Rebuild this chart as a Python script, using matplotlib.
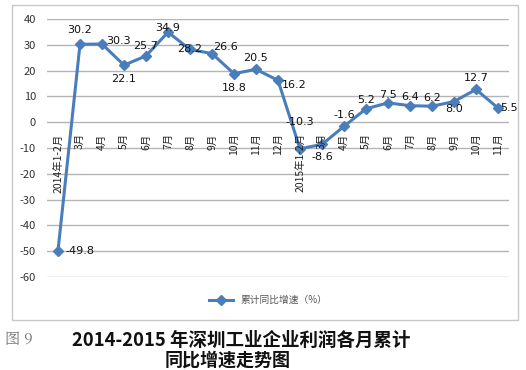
import matplotlib.pyplot as plt
from matplotlib.lines import Line2D
from matplotlib.patches import Rectangle

plt.rcParams['font.family'] = ['Noto Sans CJK SC', 'DejaVu Sans']
plt.rcParams['axes.unicode_minus'] = False

months = ['2014年1-2月', '3月', '4月', '5月', '6月', '7月', '8月', '9月', '10月', '11月', '12月',
          '2015年1-2月', '3月', '4月', '5月', '6月', '7月', '8月', '9月', '10月', '11月']
growth = [-49.8, 30.2, 30.3, 22.1, 25.7, 34.9, 28.2, 26.6, 18.8, 20.5, 16.2,
          -10.3, -8.6, -1.6, 5.2, 7.5, 6.4, 6.2, 8.0, 12.7, 5.5]

# label offsets in points (dx, dy), placement only
offs = [(16, 0), (0, 10), (12, 2), (0, -10), (0, 7), (0, 3), (0, 0), (10, 5), (0, -10), (0, 8), (12, -3),
        (0, 19), (0, -9), (0, 8), (0, 6), (0, 6), (0, 6), (0, 6), (0, -5), (0, 8), (8, 0)]

blue = '#4a7ebb'
fig = plt.figure(figsize=(5.26, 3.7), dpi=100)
fig.patches.append(Rectangle((12/526, 1-320/370), 506/526, 315/370, transform=fig.transFigure,
                             fill=False, edgecolor='#c8c8c8', lw=1))
ax = fig.add_axes([47/526, 1-277/370, 462/526, 258/370])
x = list(range(len(months)))
ax.plot(x, growth, color=blue, lw=2.2, marker='D', ms=5, zorder=3)
ax.set_xlim(-0.5, 20.5)
ax.set_ylim(-60, 40)
ax.set_yticks(range(-60, 41, 10))
ax.tick_params(axis='y', length=0, labelsize=8, pad=8, labelcolor='#333333')
ax.set_xticks([])
for s in ax.spines.values():
    s.set_visible(False)
ax.grid(axis='y', color='#b4b4b4', lw=1)
ax.set_axisbelow(True)

for i, m in enumerate(months):
    ax.annotate(m, (i, 0), xytext=(0, -8), textcoords='offset points', rotation=90,
                ha='center', va='top', fontsize=7.5, color='#222222')
for i, v in enumerate(growth):
    dx, dy = offs[i]
    ax.annotate(f'{v:.1f}', (i, v), xytext=(dx, dy), textcoords='offset points',
                ha='center', va='center', fontsize=8, color='#111111', family='DejaVu Sans')

h = Line2D([], [], color=blue, lw=2.2, marker='D', ms=5)
fig.legend([h], ['累计同比增速（%）'], loc='center', bbox_to_anchor=(268/526, 1-300/370),
           frameon=False, fontsize=7, labelcolor='#555555', handlelength=2.5)

fig.text(5/526, 1-340/370, '图 9', fontsize=11, color='#777777', va='center',
         family=['Noto Serif CJK SC', 'Noto Sans CJK SC', 'DejaVu Serif'])
fig.text(72/526, 1-340/370, '2014-2015 年深圳工业企业利润各月累计', fontsize=13.3, fontweight='bold',
         va='center', color='#111111')
fig.text(165/526, 1-360/370, '同比增速走势图', fontsize=13, fontweight='bold', va='center', color='#111111')

fig.savefig('out.png', dpi=100)
